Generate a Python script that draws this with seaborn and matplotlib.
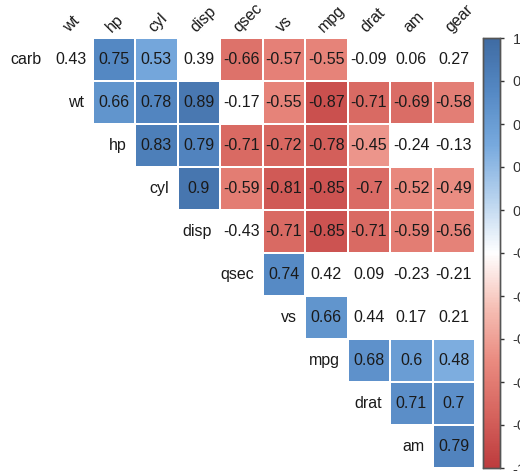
import numpy as np
import pandas as pd
import matplotlib
matplotlib.use("Agg")
import matplotlib.pyplot as plt
from matplotlib.colors import LinearSegmentedColormap, ListedColormap
import seaborn as sns

# mtcars correlations, upper triangle in corrplot order
col_names = ["wt", "hp", "cyl", "disp", "qsec", "vs", "mpg", "drat", "am", "gear"]
row_names = ["carb", "wt", "hp", "cyl", "disp", "qsec", "vs", "mpg", "drat", "am"]

r_carb = [0.43, 0.75, 0.53, 0.39, -0.66, -0.57, -0.55, -0.09, 0.06, 0.27]
r_wt = [0.66, 0.78, 0.89, -0.17, -0.55, -0.87, -0.71, -0.69, -0.58]
r_hp = [0.83, 0.79, -0.71, -0.72, -0.78, -0.45, -0.24, -0.13]
r_cyl = [0.9, -0.59, -0.81, -0.85, -0.7, -0.52, -0.49]
r_disp = [-0.43, -0.71, -0.85, -0.71, -0.59, -0.56]
r_qsec = [0.74, 0.42, 0.09, -0.23, -0.21]
r_vs = [0.66, 0.44, 0.17, 0.21]
r_mpg = [0.68, 0.6, 0.48]
r_drat = [0.71, 0.7]
r_am = [0.79]

# |r| needed for p < 0.01 with n = 32
r_crit = 0.449

rows = [r_carb, r_wt, r_hp, r_cyl, r_disp, r_qsec, r_vs, r_mpg, r_drat, r_am]
n = len(col_names)
mat = np.full((n, n), np.nan)
for i, vals in enumerate(rows):
    mat[i, i:] = vals
df = pd.DataFrame(mat, index=row_names, columns=col_names)

labels = df.map(lambda v: "" if np.isnan(v) else f"{v:g}")
empty = df.isna().values
insig = ~empty & (df.abs().values < r_crit)

cmap = LinearSegmentedColormap.from_list(
    "corr",
    [(0.0, "#bd3b3d"), (0.125, "#d6645e"), (0.25, "#ea8b80"), (0.375, "#f6c0b6"),
     (0.5, "#ffffff"),
     (0.625, "#b8d3ee"), (0.75, "#78aade"), (0.875, "#5589c4"), (1.0, "#3f6ba3")])

sns.set_style("white")
plt.rcParams["font.family"] = ["Liberation Sans", "DejaVu Sans"]

fig = plt.figure(figsize=(5.2, 4.72), dpi=100)
ax = fig.add_axes([50 / 520, 4 / 472, 425 / 520, 430 / 472])
cax = fig.add_axes([483 / 520, 4 / 472, 17 / 520, 430 / 472])

akw = {"color": "#1a1a1a", "fontsize": 11.5}
sns.heatmap(df, mask=empty | insig, cmap=cmap, vmin=-1, vmax=1, annot=labels, fmt="",
            annot_kws=akw, linewidths=1.2, linecolor="white",
            ax=ax, cbar_ax=cax)
sns.heatmap(df, mask=~insig, cmap=ListedColormap(["white"]), annot=labels, fmt="",
            annot_kws=akw, linewidths=1.2, linecolor="white", cbar=False, ax=ax)

ax.xaxis.tick_top()
ax.set_xticks(np.arange(n) + 0.5)
ax.set_xticklabels(col_names, rotation=45, ha="left", rotation_mode="anchor",
                   fontsize=11.5, color="#1a1a1a")
ax.tick_params(axis="x", length=0, pad=2)
ax.set_yticks([])
ax.set_xlabel("")
ax.set_ylabel("")
for i, name in enumerate(row_names):
    ax.text(i - 0.19, i + 0.5, name, ha="right", va="center", fontsize=11.5,
            color="#1a1a1a")

ticks = np.round(np.arange(-1, 1.01, 0.2), 1)
cax.set_yticks(ticks)
cax.set_yticklabels([f"{t:g}" for t in ticks], fontsize=10.5, color="#333333")
cax.tick_params(axis="y", length=3, width=1, color="#333333", pad=6)
for s in cax.spines.values():
    s.set_visible(True)
    s.set_color("#555555")
    s.set_linewidth(1)

fig.savefig("out.png", dpi=100)
